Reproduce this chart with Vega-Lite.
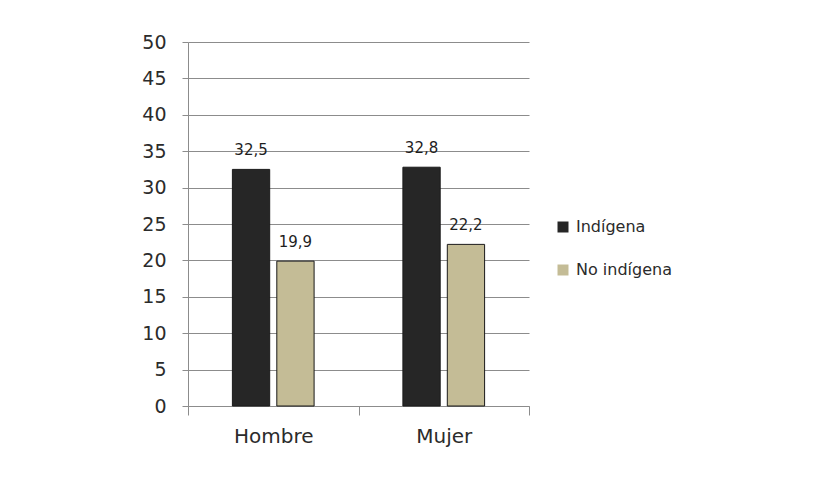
{
  "$schema": "https://vega.github.io/schema/vega-lite/v6.json",
  "width": 341,
  "height": 364,
  "autosize": "none",
  "padding": {"left": 188, "top": 42, "right": 295, "bottom": 72},
  "background": "white",
  "data": {
    "values": [
      {"sexo": "Hombre", "grupo": "Indígena", "valor": 32.5},
      {"sexo": "Hombre", "grupo": "No indígena", "valor": 19.9},
      {"sexo": "Mujer", "grupo": "Indígena", "valor": 32.8},
      {"sexo": "Mujer", "grupo": "No indígena", "valor": 22.2}
    ]
  },
  "encoding": {
    "x": {
      "field": "sexo",
      "type": "nominal",
      "sort": ["Hombre", "Mujer"],
      "scale": {"paddingInner": 0, "paddingOuter": 0},
      "axis": {
        "title": null,
        "labelAngle": 0,
        "tickBand": "extent",
        "tickSize": 9,
        "labelPadding": 11,
        "labelFontSize": 20,
        "grid": false
      }
    },
    "xOffset": {
      "field": "grupo",
      "type": "nominal",
      "sort": ["Indígena", "No indígena"],
      "scale": {"paddingInner": 0.16, "paddingOuter": 1.4}
    },
    "y": {
      "field": "valor",
      "type": "quantitative",
      "scale": {"domain": [0, 50], "nice": false},
      "axis": {
        "title": null,
        "values": [0, 5, 10, 15, 20, 25, 30, 35, 40, 45, 50],
        "tickSize": 6,
        "labelPadding": 16,
        "labelFontSize": 19,
        "grid": true
      }
    }
  },
  "layer": [
    {
      "mark": {"type": "bar", "stroke": "#1a1a1a", "strokeWidth": 1},
      "encoding": {
        "color": {
          "field": "grupo",
          "type": "nominal",
          "sort": ["Indígena", "No indígena"],
          "scale": {"domain": ["Indígena", "No indígena"], "range": ["#262626", "#c4bc96"]},
          "legend": {
            "title": null,
            "orient": "none",
            "legendX": 367,
            "legendY": 177,
            "symbolType": "square",
            "symbolSize": 121,
            "symbolStrokeWidth": 0,
            "labelFontSize": 16,
            "labelOffset": 5,
            "rowPadding": 27,
            "padding": 0
          }
        }
      }
    },
    {
      "mark": {"type": "text", "baseline": "alphabetic", "dy": -14, "fontSize": 15, "color": "#1e1e1e"},
      "encoding": {
        "text": {"field": "valor", "type": "quantitative", "format": ".1f"}
      }
    }
  ],
  "config": {
    "locale": {
      "number": {"decimal": ",", "thousands": ".", "grouping": [3], "currency": ["", " €"]}
    },
    "font": "DejaVu Sans",
    "view": {"stroke": null},
    "axis": {
      "domainColor": "#8c8c8c",
      "tickColor": "#8c8c8c",
      "gridColor": "#8c8c8c",
      "gridOpacity": 1,
      "labelColor": "#2b2b2b",
      "labelFont": "DejaVu Sans"
    },
    "legend": {"labelColor": "#2b2b2b", "labelFont": "DejaVu Sans"}
  }
}
